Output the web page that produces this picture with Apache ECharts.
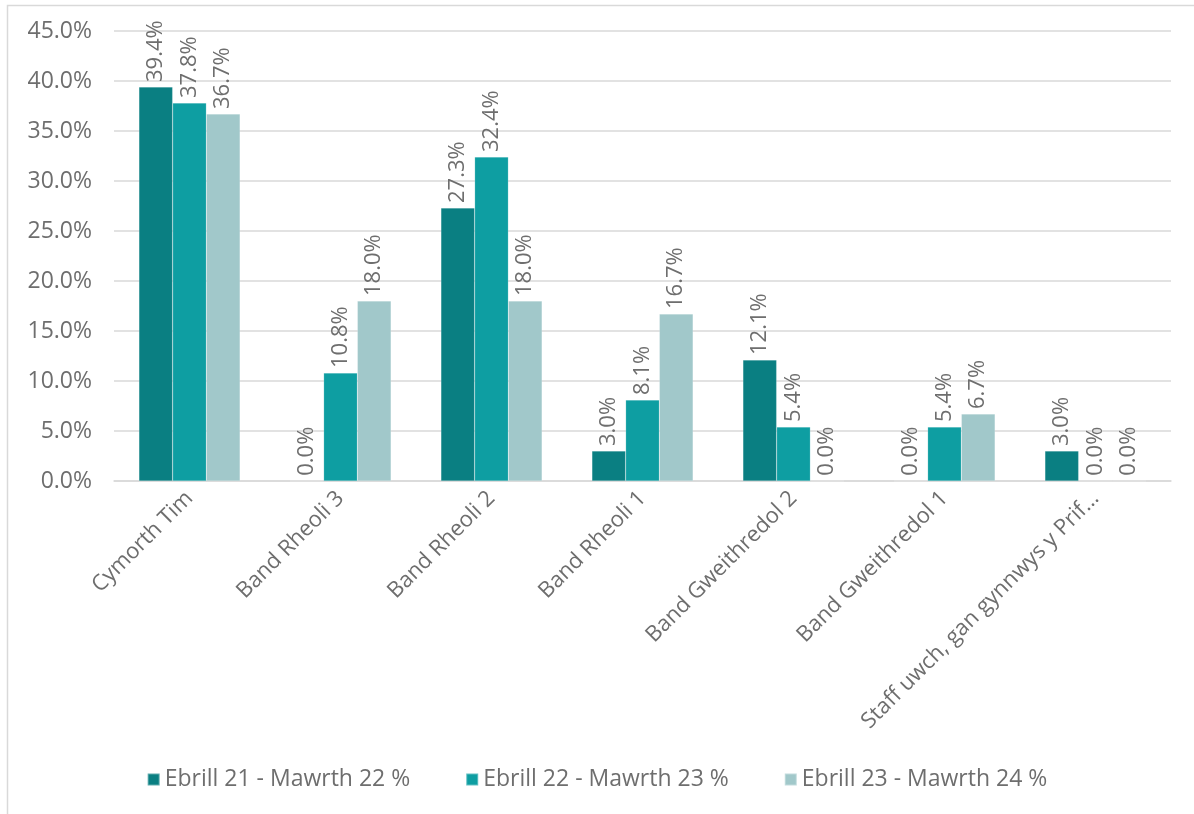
<!DOCTYPE html>
<html>
<head>
<meta charset="utf-8">
<style>
  html, body { margin: 0; padding: 0; background: #fff; }
  #chart { width: 1194px; height: 814px; }
</style>
<script src="https://cdn.jsdelivr.net/npm/echarts@6/dist/echarts.min.js"></script>
</head>
<body>
<div id="chart"></div>
<script>
const categories = [
  'Cymorth Tim',
  'Band Rheoli 3',
  'Band Rheoli 2',
  'Band Rheoli 1',
  'Band Gweithredol 2',
  'Band Gweithredol 1',
  'Staff uwch, gan gynnwys y Prif...'
];
const seriesNames = [
  'Ebrill 21 - Mawrth 22 %',
  'Ebrill 22 - Mawrth 23 %',
  'Ebrill 23 - Mawrth 24 %'
];
const values2122 = [39.4, 0.0, 27.3, 3.0, 12.1, 0.0, 3.0];
const values2223 = [37.8, 10.8, 32.4, 8.1, 5.4, 5.4, 0.0];
const values2324 = [36.7, 18.0, 18.0, 16.7, 0.0, 6.7, 0.0];
const colors = ['#0a7f82', '#0e9ea2', '#a1c8ca'];

const FONT = '"Open Sans", "Noto Sans", sans-serif';
const TEXT = '#6e6e6e';
const SIZE = 23;

function barSeries(name, data, color) {
  return {
    name: name,
    type: 'bar',
    data: data,
    barGap: '0%',
    barCategoryGap: '33%',
    itemStyle: { color: color, borderColor: 'rgba(255,255,255,0.35)', borderWidth: 0.5 },
    label: {
      show: true,
      position: 'top',
      rotate: 90,
      align: 'left',
      verticalAlign: 'middle',
      distance: 5,
      color: TEXT,
      fontFamily: FONT,
      fontSize: 22,
      formatter: p => p.value.toFixed(1) + '%'
    }
  };
}

const chart = echarts.init(document.getElementById('chart'), null, { renderer: 'canvas' });
chart.setOption({
  animation: false,
  backgroundColor: '#fff',
  graphic: [{
    type: 'rect',
    shape: { x: 7.5, y: 5.5, width: 1300, height: 900 },
    style: { fill: 'none', stroke: '#d9d9d9', lineWidth: 1.5 },
    silent: true
  }],
  grid: { left: 114, right: 23, top: 31, bottom: 333 },
  legend: {
    bottom: 18,
    left: 'center',
    itemWidth: 12,
    itemHeight: 12,
    itemGap: 55,
    icon: 'rect',
    textStyle: { color: TEXT, fontFamily: FONT, fontSize: SIZE },
    data: seriesNames
  },
  xAxis: {
    type: 'category',
    data: categories,
    axisLine: { lineStyle: { color: '#d9d9d9', width: 1.5 } },
    axisTick: { show: false },
    axisLabel: {
      rotate: 45,
      interval: 0,
      margin: 14,
      color: TEXT,
      fontFamily: FONT,
      fontSize: 22
    }
  },
  yAxis: {
    type: 'value',
    min: 0,
    max: 45,
    interval: 5,
    axisLine: { show: false },
    axisTick: { show: false },
    splitLine: { lineStyle: { color: '#d9d9d9', width: 1.5 } },
    axisLabel: {
      margin: 22,
      color: TEXT,
      fontFamily: FONT,
      fontSize: SIZE,
      formatter: v => v.toFixed(1) + '%'
    }
  },
  series: [
    barSeries(seriesNames[0], values2122, colors[0]),
    barSeries(seriesNames[1], values2223, colors[1]),
    barSeries(seriesNames[2], values2324, colors[2])
  ]
});
</script>
</body>
</html>
